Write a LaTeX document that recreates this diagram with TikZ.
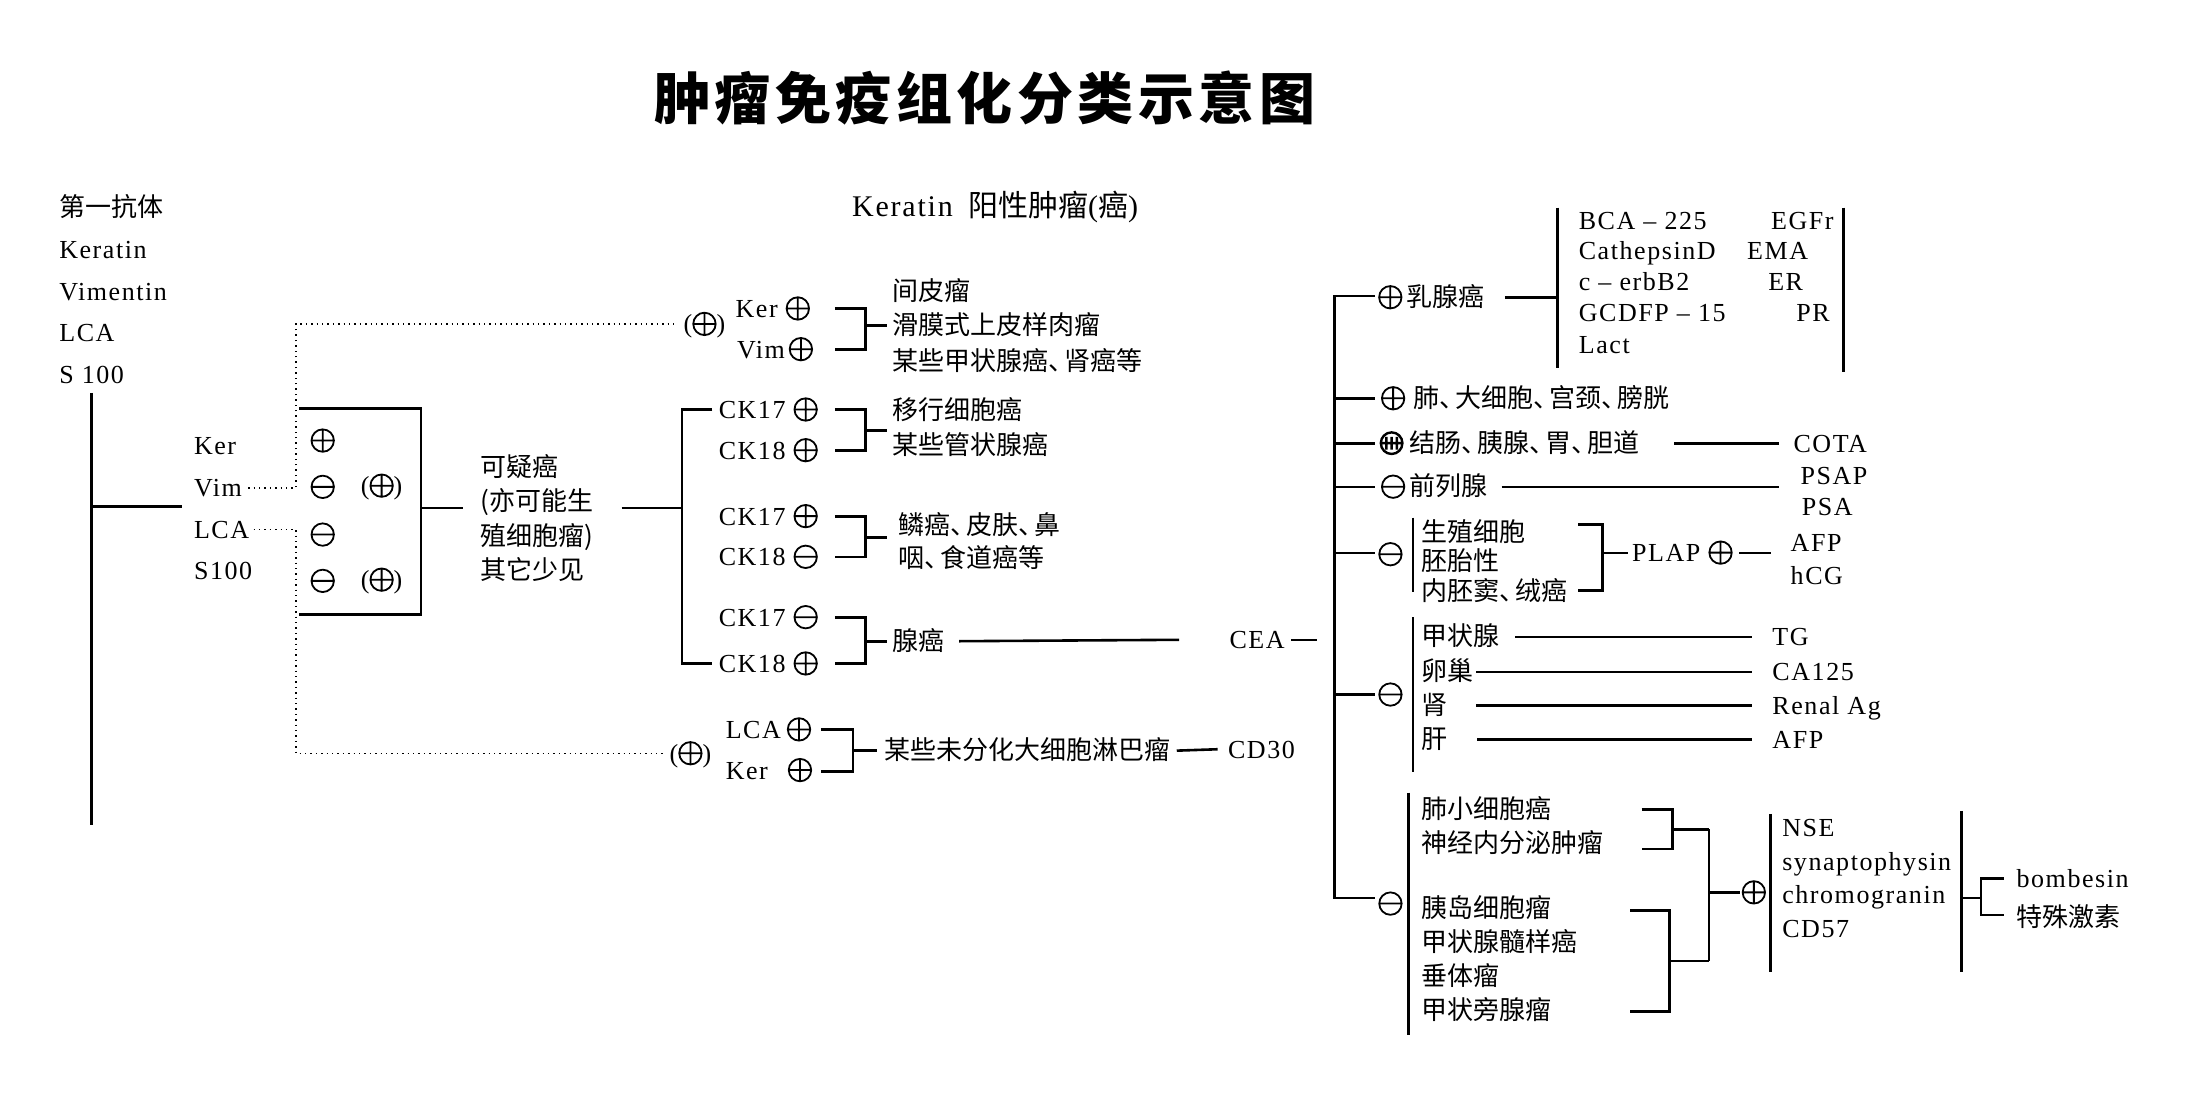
\documentclass[tikz,border=0pt]{standalone}
\usepackage{fontspec}
\setmainfont[LetterSpace=6]{Liberation Serif}
\newfontfamily\cjk{Noto Sans CJK SC}
\newfontfamily\cjkt[LetterSpace=8]{Noto Sans CJK SC}

% circled signs used inside the labels
\newcommand{\psign}{\tikz[baseline={(0pt,-4.5pt)}]{\draw[line width=0.9pt] (0pt,0pt) circle[radius=5.6pt] (-5.6pt,0pt) -- (5.6pt,0pt) (0pt,-5.6pt) -- (0pt,5.6pt);}}
\newcommand{\msign}{\tikz[baseline={(0pt,-4.5pt)}]{\draw[line width=0.9pt] (0pt,0pt) circle[radius=5.6pt] (-5.6pt,0pt) -- (5.6pt,0pt);}}
\newcommand{\tsign}{\tikz[baseline={(0pt,-4.5pt)}]{\draw[line width=1.2pt] (0pt,0pt) circle[radius=5.4pt] (-5.4pt,0pt) -- (5.4pt,0pt) (-2.6pt,-3.2pt) -- (-2.6pt,3.2pt) (0pt,-3.2pt) -- (0pt,3.2pt) (2.6pt,-3.2pt) -- (2.6pt,3.2pt);}}
% tight enumeration comma
\newcommand{\dun}{、\kern-5pt}

\begin{document}
\begin{tikzpicture}[x=0.7015pt,y=-0.7015pt,
  font=\fontsize{13pt}{15pt}\selectfont,
  ln/.style={line width=1.3pt},
  dotln/.style={line width=0.7pt,dotted},
  lbl/.style={inner sep=0pt,anchor=west,text height=10pt,text depth=1.2pt},
  cn/.style={lbl,font=\fontsize{13pt}{15pt}\selectfont\cjk},
  sgn/.style={inner sep=0pt}]
  \useasboundingbox (0,0) rectangle (1568,790);

  % title
  \node[font=\fontsize{28pt}{32pt}\selectfont\cjkt\bfseries] (title) at (702,70) {肿瘤免疫组化分类示意图};

  % first antibodies
  \foreach \t [count=\i] in {{\cjk 第一抗体},Keratin,Vimentin,LCA,S 100}
    \node[lbl] (ab\i) at (42,{148+29.8*(\i-1)}) {\t};
  \draw[ln] (65,280) -- (65,588) (65,361) -- (130,361);

  % stains and their results
  \foreach \t [count=\i] in {Ker,Vim,LCA,S100}
    \node[lbl] (st\i) at (138,{318+29.7*(\i-1)}) {\t};
  \draw[ln] (213,291) -| (300,438) -- (213,438) (300,362) -- (330,362);
  \foreach \s/\x/\y [count=\i] in {\psign/230/314,\msign/230/347,\msign/230/381,\msign/230/414,{(\psign)}/272/347,{(\psign)}/272/414}
    \node[sgn] (rs\i) at (\x,\y) {\s};

  % dotted routes
  \coordinate (dv) at (211,0);
  \node[lbl] (pa) at (487,231) {(\psign)};
  \node[lbl] (pb) at (477,537) {(\psign)};
  \draw[dotln] ([xshift=3pt]st2.east) -- (st2.east -| dv) -- (dv |- pa.west) -- ([xshift=-3pt]pa.west);
  \draw[dotln] ([xshift=2pt]st3.east) -- (st3.east -| dv) -- (dv |- pb.west) -- ([xshift=-2pt]pb.west);

  % suspected carcinoma
  \foreach \t [count=\i] in {可疑癌,{(亦可能生},{殖细胞瘤)},其它少见}
    \node[cn] (sc\i) at (342,{333+24.7*(\i-1)}) {\t};
  \draw[ln] (443,362) -- (486,362);

  % keratin positive tumours
  \node[lbl,font=\fontsize{15pt}{17pt}\selectfont] (kp) at (607,148) {Keratin\hspace{3pt} {\cjk 阳性肿瘤}({\cjk 癌})};
  \node[lbl] (kv1) at (524,220) {Ker\hspace{4pt}\psign};
  \node[lbl] (kv2) at (525,249) {Vim\hspace{2pt}\psign};
  \foreach \t/\y [count=\i] in {间皮瘤/208,滑膜式上皮样肉瘤/232,某些甲状腺癌\dun 肾癌等/258}
    \node[cn] (me\i) at (636,\y) {\t};

  % cytokeratins
  \foreach \t/\s/\y [count=\i] in {CK17/\psign/292,CK18/\psign/321,CK17/\psign/368,CK18/\msign/397,CK17/\msign/440,CK18/\psign/473}
    \node[lbl] (ck\i) at (512,\y) {\t\hspace{4pt}\s};
  \draw[ln] ([xshift=-3pt]ck1.west) -| (486,473) -- ([xshift=-3pt]ck6.west);
  \foreach \t/\x/\y [count=\i] in {移行细胞癌/636/293,某些管状腺癌/636/318,鳞癌\dun 皮肤\dun 鼻/640/375,咽\dun 食道癌等/640/398}
    \node[cn] (ca\i) at (\x,\y) {\t};
  \node[cn] (ad) at (636,457) {腺癌};
  \node[lbl] (cea) at (876,456) {CEA};
  \draw[ln] ([xshift=7pt]ad.east) -- ([xshift=-25pt]cea.west);
  \draw[ln] ([xshift=3pt]cea.east) -- ++(13pt,0);

  % brackets
  \foreach \ya/\yb/\ym in {220/249/232,292/321/307,368/397/383,440/473/457}
    \draw[ln] (595,\ya) -| (617,\yb) -- (595,\yb) (617,\ym) -- (632,\ym);

  % lymphoma
  \node[lbl] (lc) at (517,520) {LCA\hspace{3pt}\psign};
  \node[lbl] (kr) at (517,549) {Ker\hspace{10pt}\psign};
  \draw[ln] (585,520) -| (608,550) -- (585,550) (608,535) -- (625,535);
  \node[cn] (ly) at (630,535) {某些未分化大细胞淋巴瘤};
  \node[lbl] (cd) at (875,534) {CD30};
  \draw[ln] ([xshift=3pt]ly.east) -- ([xshift=-5pt]cd.west);

  % CEA tree
  \draw[ln] (980,211) -| (951,640) -- (980,640);
  \foreach \y in {284,316,347,394,495}
    \draw[ln] (951,\y) -- (980,\y);

  % breast
  \node[lbl] (bc) at (982,212) {\psign\hspace{2pt}{\cjk 乳腺癌}};
  \draw[ln] ([xshift=10pt]bc.east) -- (1110,212);
  \draw[ln] (1110,148) -- (1110,262) (1314,148) -- (1314,265);
  \foreach \a/\b/\x/\y [count=\i] in {BCA -- 225/EGFr/1262/157,CathepsinD/EMA/1245/179,c -- erbB2/ER/1260/201,GCDFP -- 15/PR/1280/223}{
    \node[lbl] (bl\i) at (1125,\y) {\a};
    \node[lbl] (bm\i) at (\x,\y) {\b};
  }
  \node[lbl] (lact) at (1125,246) {Lact};

  % lung, colon, prostate
  \node[lbl] (lu) at (984,284) {\psign\hspace{4pt}{\cjk 肺\dun 大细胞\dun 宫颈\dun 膀胱}};
  \node[lbl] (co) at (983,316) {\tsign\hspace{3pt}{\cjk 结肠\dun 胰腺\dun 胃\dun 胆道}};
  \node[lbl] (cota) at (1278,316) {COTA};
  \draw[ln] ([xshift=17pt]co.east) -- ([xshift=-7pt]cota.west);
  \node[lbl] (pr) at (984,347) {\msign\hspace{2pt}{\cjk 前列腺}};
  \node[lbl] (psap) at (1283,339) {PSAP};
  \node[lbl] (psa) at (1284,361) {PSA};
  \draw[ln] ([xshift=7pt]pr.east) -- (1268,347);

  % germ cell
  \node[sgn] (gm) at (991,395) {\msign};
  \draw[ln] (1007,369) -- (1007,422);
  \foreach \t/\y [count=\i] in {生殖细胞/380,胚胎性/400,内胚窦\dun 绒癌/422}
    \node[cn] (ge\i) at (1013,\y) {\t};
  \draw[ln] (1125,374) -| (1142,421) -- (1125,421) (1142,394) -- (1160,394);
  \node[lbl] (plap) at (1163,394) {PLAP\hspace{4pt}\psign};
  \draw[ln] ([xshift=3pt]plap.east) -- (1262,394);
  \node[lbl] (afp1) at (1276,387) {AFP};
  \node[lbl] (hcg) at (1276,410) {hCG};

  % organ specific
  \node[sgn] (og) at (991,495) {\msign};
  \draw[ln] (1007,440) -- (1007,550);
  \foreach \t/\m/\x/\y [count=\i] in {甲状腺/TG/1080/454,卵巢/CA125/1052/479,肾/Renal Ag/1052/503,肝/AFP/1053/527}{
    \node[cn] (or\i) at (1013,\y) {\t};
    \node[lbl] (om\i) at (1263,\y) {\m};
    \draw[ln] (\x,\y) -- ([xshift=-10pt]om\i.west);
  }

  % neuroendocrine
  \node[sgn] (ne) at (991,644) {\msign};
  \draw[ln] (1004,565) -- (1004,738);
  \foreach \t/\y [count=\i] in {肺小细胞癌/577,神经内分泌肿瘤/601,胰岛细胞瘤/648,甲状腺髓样癌/672,垂体瘤/696,甲状旁腺瘤/720}
    \node[cn] (nt\i) at (1013,\y) {\t};
  \draw[ln] (1170,577) -| (1192,605) -- (1170,605) (1192,591) -- (1218,591);
  \draw[ln] (1162,649) -| (1190,721) -- (1162,721) (1190,685) -- (1218,685);
  \draw[ln] (1218,591) -- (1218,685) (1218,636) -- (1240,636);
  \node[sgn] (nm) at (1250,636) {\psign};
  \draw[ln] (1262,580) -- (1262,693) (1398,578) -- (1398,693);
  \foreach \t/\y [count=\i] in {NSE/590,synaptophysin/614,chromogranin/638,CD57/662}
    \node[lbl] (nk\i) at (1270,\y) {\t};
  \draw[ln] (1398,640) -- (1412,640) (1428,626) -| (1412,652) -- (1428,652);
  \node[lbl] (bo) at (1437,626) {bombesin};
  \node[cn] (hm) at (1437,654) {特殊激素};
\end{tikzpicture}
\end{document}
